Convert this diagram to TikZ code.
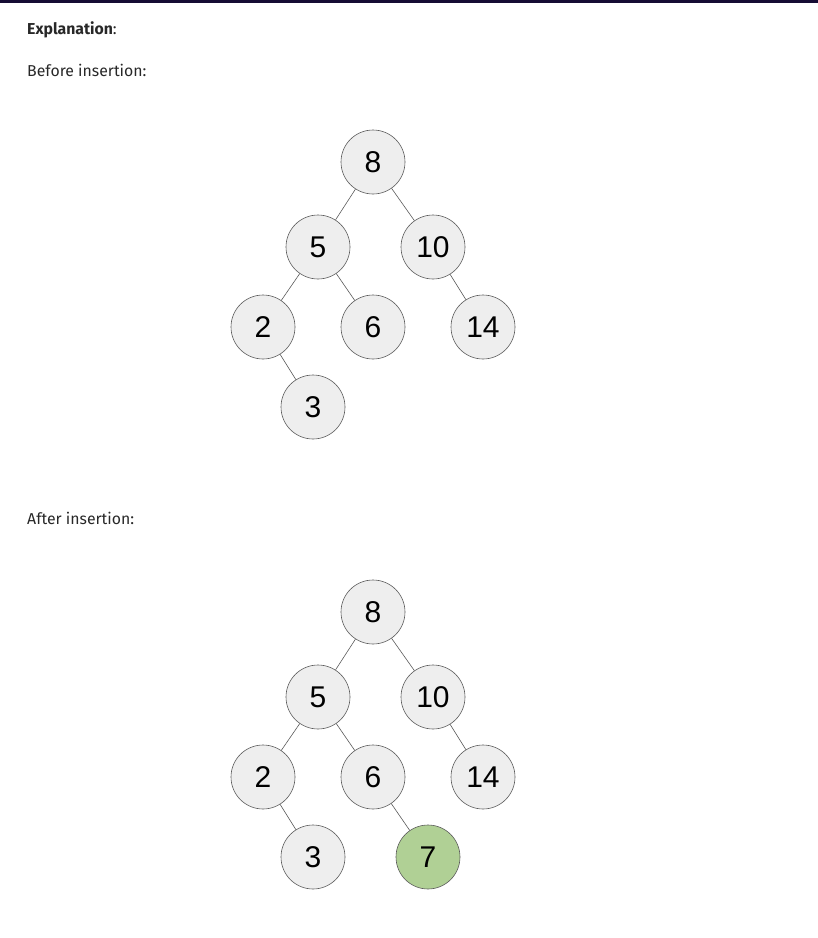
\documentclass[tikz,border=0pt]{standalone}
\usepackage{fontspec}
\setmainfont{Fira Sans}
\newfontfamily\keyfont{Liberation Sans}
\definecolor{barcol}{RGB}{22,12,52}
\definecolor{nodefill}{RGB}{238,238,238}
\definecolor{nodeline}{RGB}{90,90,90}
\definecolor{newfill}{RGB}{176,208,149}
\definecolor{textcol}{RGB}{40,40,40}
\begin{document}
\begin{tikzpicture}[x=1pt,y=-1pt,
    key/.style={circle,draw=nodeline,line width=0.6pt,fill=nodefill,minimum size=64pt,inner sep=0pt,font=\keyfont\fontsize{30}{30}\selectfont},
    newkey/.style={key,fill=newfill},
    edge/.style={draw=nodeline,line width=0.6pt},
    caption/.style={anchor=base west,inner sep=0pt,text=textcol,font=\fontsize{15.8}{16}\selectfont}]
    \useasboundingbox (0,0) rectangle (818,938);
    % Drawing top bar
    \fill [barcol] (0,0) rectangle (818,3);
    % Captions
    \node [caption] (expl) at (27,34) {\textbf{Explanation}:};
    \node [caption] (before) at (27,76) {Before insertion:};
    \node [caption] (after) at (27,524) {After insertion:};

    % Tree before insertion
    \node [key] (a8) at (373,162) {8};
    \node [key] (a5) at (318,247) {5};
    \node [key] (a10) at (433,247) {10};
    \node [key] (a2) at (263,327) {2};
    \node [key] (a6) at (373,327) {6};
    \node [key] (a14) at (483,327) {14};
    \node [key] (a3) at (313,407) {3};
    \draw [edge] (a8) -- (a5);
    \draw [edge] (a8) -- (a10);
    \draw [edge] (a5) -- (a2);
    \draw [edge] (a5) -- (a6);
    \draw [edge] (a10) -- (a14);
    \draw [edge] (a2) -- (a3);

    % Tree after insertion
    \node [key] (b8) at (373,612) {8};
    \node [key] (b5) at (318,697) {5};
    \node [key] (b10) at (433,697) {10};
    \node [key] (b2) at (263,777) {2};
    \node [key] (b6) at (373,777) {6};
    \node [key] (b14) at (483,777) {14};
    \node [key] (b3) at (313,857) {3};
    \node [newkey] (b7) at (428,857) {7};
    \draw [edge] (b8) -- (b5);
    \draw [edge] (b8) -- (b10);
    \draw [edge] (b5) -- (b2);
    \draw [edge] (b5) -- (b6);
    \draw [edge] (b10) -- (b14);
    \draw [edge] (b2) -- (b3);
    \draw [edge] (b6) -- (b7);
\end{tikzpicture}
\end{document}
